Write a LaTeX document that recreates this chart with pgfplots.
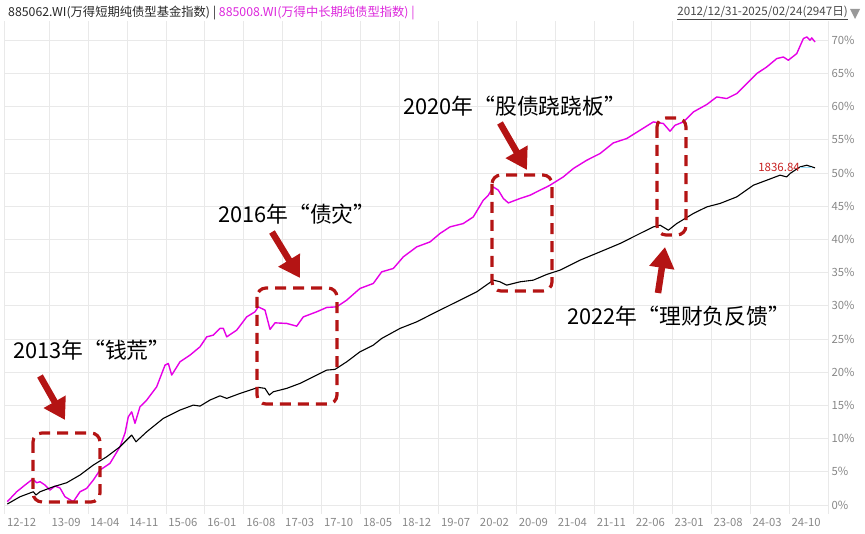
\documentclass[border=0pt]{standalone}
\usepackage{pgfplots}
\pgfplotsset{compat=1.18}
\usepackage{fontspec}
\setmainfont{Noto Sans CJK SC}
\usetikzlibrary{arrows.meta}

\definecolor{pinkl}{RGB}{230,0,230}
\definecolor{annred}{RGB}{180,20,20}
\definecolor{tickgray}{RGB}{135,135,135}
\definecolor{gridgray}{RGB}{233,233,233}
\definecolor{hdrtext}{RGB}{40,40,40}
\definecolor{hdrmag}{RGB}{220,40,220}
\definecolor{lblred}{RGB}{200,35,35}

\begin{document}
\begin{tikzpicture}
\path[use as bounding box] (0,0) rectangle (865pt,533pt);
\begin{axis}[
  at={(4.5pt,19pt)}, anchor=south west,
  width=823.5pt, height=493pt, scale only axis,
  xmin=0, xmax=148, ymin=-1.35, ymax=72.9,
  axis line style={draw=none},
  major tick length=0pt,
  grid=major,
  major grid style={gridgray, line width=0.7pt},
  xtick={0,8,15,22,29,36,43,50,57,64,71,78,85,92,99,106,113,120,127,134,141,148},
  xticklabels={12-12,13-09,14-04,14-11,15-06,16-01,16-08,17-03,17-10,18-05,18-12,19-07,20-02,20-09,21-04,21-11,22-06,23-01,23-08,24-03,24-10,},
  xticklabel style={anchor=north west, xshift=-1pt, yshift=-1pt, font=\fontsize{11.3}{13}\selectfont, text=tickgray},
  ytick={0,5,...,70},
  yticklabel pos=right,
  yticklabels={0\%,5\%,10\%,15\%,20\%,25\%,30\%,35\%,40\%,45\%,50\%,55\%,60\%,65\%,70\%},
  yticklabel style={anchor=west, font=\fontsize{11.3}{13}\selectfont, text=tickgray},
]
% 885008.WI
\addplot[pinkl, line width=1.4pt, line join=round] coordinates {
(0.50,0.50)(2.19,2.00)(3.68,3.01)(5.07,3.91)(5.79,3.36)(6.38,3.51)(7.28,3.01)(8.18,2.26)
(9.08,2.86)(9.98,2.56)(10.87,1.25)(12.37,0.50)(13.57,2.00)(14.77,2.51)(15.96,3.76)(17.16,5.27)
(18.96,6.28)(20.76,8.78)(21.66,10.84)(22.25,13.29)(22.86,14.04)(23.45,12.30)(24.35,14.80)
(25.56,15.81)(27.35,17.81)(28.85,21.07)(29.44,21.33)(30.05,19.57)(31.54,21.57)(33.34,22.58)
(35.14,23.83)(36.34,25.33)(37.53,25.59)(38.73,26.60)(39.33,26.60)(39.94,25.33)(41.73,26.34)
(43.53,28.34)(45.02,29.10)(45.62,29.85)(46.82,29.35)(47.72,26.45)(48.62,27.44)(50.72,27.35)
(52.52,26.94)(53.70,28.34)(56.11,29.10)(57.91,29.76)(59.71,29.85)(61.50,30.86)(63.89,32.62)
(66.28,33.37)(67.79,35.12)(69.88,35.63)(71.68,37.38)(74.08,38.88)(76.48,39.63)(78.27,40.90)
(80.07,41.89)(82.46,42.40)(84.26,43.40)(86.05,45.91)(86.95,46.66)(87.85,47.91)(88.75,47.42)
(89.65,46.17)(90.55,45.50)(92.65,46.17)(94.45,46.66)(96.24,47.42)(97.45,47.91)(98.04,48.17)
(100.43,49.42)(102.23,50.68)(104.64,51.93)(107.03,52.94)(109.42,54.54)(111.83,55.20)
(114.22,56.45)(116.61,57.70)(118.41,57.46)(119.61,56.30)(120.51,57.20)(122.00,57.70)
(123.80,59.20)(126.21,60.32)(128.00,61.46)(129.80,61.22)(131.60,61.97)(133.40,63.48)
(135.19,64.98)(136.99,65.98)(138.79,67.24)(139.97,67.48)(140.87,66.99)(142.38,67.99)
(143.57,70.25)(144.18,70.50)(144.77,70.00)(145.08,70.35)(145.67,69.74)
};
% 885062.WI
\addplot[black, line width=1.1pt, line join=round] coordinates {
(0.50,0.15)(2.79,1.25)(5.18,2.00)(5.66,1.51)(6.38,2.00)(8.77,2.75)(11.18,3.36)(13.57,4.52)
(15.96,6.02)(18.37,7.27)(20.76,8.78)(22.86,10.54)(23.63,9.53)(25.56,11.03)(28.54,13.05)
(31.54,14.30)(33.93,15.05)(35.14,14.90)(36.93,15.81)(38.73,16.45)(39.94,16.06)(42.33,16.81)
(45.62,17.72)(46.82,17.57)(47.59,16.56)(48.31,17.06)(50.72,17.57)(53.11,18.32)(55.50,19.31)
(57.91,20.32)(59.40,20.43)(61.50,21.57)(63.89,23.08)(66.28,24.08)(67.79,25.09)(71.08,26.60)
(74.08,27.59)(77.07,28.86)(80.07,30.11)(81.87,30.86)(84.87,32.11)(87.85,33.87)(89.06,33.62)
(90.26,33.12)(92.65,33.62)(95.04,33.87)(97.45,34.73)(99.84,35.38)(103.43,36.88)(107.03,38.13)
(110.63,39.39)(114.22,40.90)(116.61,41.89)(117.82,42.15)(119.31,41.40)(120.82,42.40)
(123.80,43.91)(126.21,44.90)(128.60,45.42)(131.60,46.41)(134.59,48.17)(136.99,48.92)
(139.38,49.68)(140.58,49.42)(141.18,49.93)(142.98,50.93)(144.18,51.18)(145.67,50.78)
};
\end{axis}

% header
\node[anchor=west, inner sep=0pt, text=hdrtext, font=\fontsize{12.3}{14}\selectfont] at (8pt,520pt)
  {885062.WI(万得短期纯债型基金指数) | \textcolor{hdrmag}{885008.WI(万得中长期纯债型指数) |}};
\node[anchor=east, inner sep=0pt, text=hdrtext!85, font=\fontsize{11.6}{14}\selectfont] at (848pt,520pt)
  {\underline{2012/12/31-2025/02/24(2947日)}};
\fill[gray!80] (850pt,524pt) -- (860pt,524pt) -- (855pt,514pt) -- cycle;

% annotations, in pixel coordinates of the reference
\begin{scope}[shift={(0pt,533pt)}, x=1pt, y=-1pt]
  \tikzset{box/.style={annred, line width=3.2pt, dash pattern=on 11pt off 7pt, rounded corners=9pt},
           arr/.style={annred, line width=6.5pt, -{Triangle[length=21pt,width=24pt]}},
           lab/.style={anchor=west, inner sep=0pt, font=\fontsize{21.8}{26}\selectfont}}
  \draw[box] (33,433) rectangle (100,502);
  \draw[arr] (40,376) -- (65,420);
  \node[lab] at (13,350) {2013年“钱荒”};

  \draw[box] (257,288) rectangle (337,404);
  \draw[arr] (272,232) -- (300,278);
  \node[lab] at (218,214) {2016年“债灾”};

  \draw[box] (492,175) rectangle (552,291);
  \draw[arr] (500,123) -- (527,170);
  \node[lab] at (403,106) {2020年“股债跷跷板”};

  \draw[box] (657,118) rectangle (686,235);
  \draw[arr] (658,293) -- (665,247);
  \node[lab] at (567,316) {2022年“理财负反馈”};

  \node[anchor=east, inner sep=0pt, text=lblred, font=\fontsize{11.5}{13}\selectfont] at (800,167) {1836.84};
  \draw[cyan!40, line width=0.8pt] (800,167) -- (812,167);
\end{scope}
\end{tikzpicture}
\end{document}
